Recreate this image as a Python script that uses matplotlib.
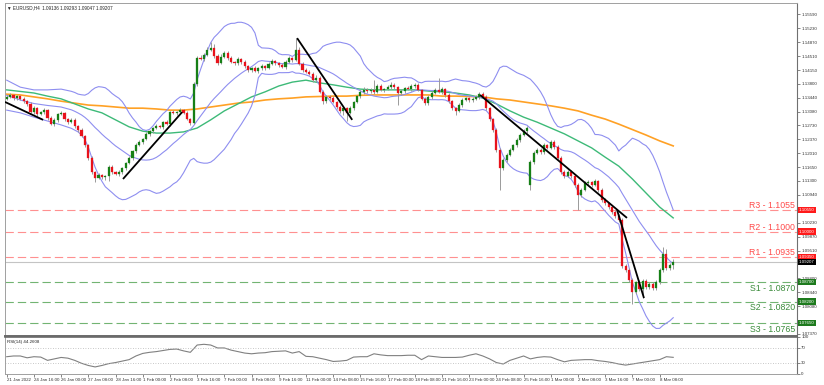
import numpy as np
import matplotlib
matplotlib.use("Agg")
import matplotlib.pyplot as plt
from matplotlib.transforms import blended_transform_factory

plt.rcParams['font.family'] = ['Liberation Sans', 'DejaVu Sans']

header_text = "\u25bc EURUSD,H4  1.09136 1.09293 1.09047 1.09207"
rsi_title = "RSI(14) 44.2608"

closes = [
    1.1346, 1.1351, 1.1343, 1.1348, 1.1341, 1.1335, 1.1328, 1.1307, 1.1317, 1.1302,
    1.1307, 1.1312, 1.1292, 1.1276, 1.1287, 1.1302, 1.1305, 1.1289, 1.1281, 1.1287,
    1.1271, 1.1261, 1.1245, 1.1222, 1.1189, 1.1153, 1.1138, 1.1145, 1.1140, 1.1143,
    1.1166, 1.1153, 1.1148, 1.1153, 1.1163, 1.1176, 1.1189, 1.1207, 1.1222, 1.1230,
    1.1238, 1.1251, 1.1258, 1.1266, 1.1271, 1.1269, 1.1281, 1.1276, 1.1307, 1.1305,
    1.1307, 1.1312, 1.1305, 1.1289, 1.1279, 1.1379, 1.1446, 1.1443, 1.1454, 1.1467,
    1.1472, 1.1451, 1.1433, 1.1449, 1.1459, 1.1446, 1.1436, 1.1433, 1.1443, 1.1436,
    1.1425, 1.1415, 1.1420, 1.1413, 1.1420, 1.1425, 1.1420, 1.1431, 1.1438, 1.1433,
    1.1428, 1.1423, 1.1436, 1.1446, 1.1441, 1.1467, 1.1431, 1.1415, 1.1410, 1.1405,
    1.1389, 1.1395, 1.1359, 1.1335, 1.1346, 1.1343, 1.1333, 1.1320, 1.1310, 1.1317,
    1.1305, 1.1317, 1.1333, 1.1348, 1.1359, 1.1364, 1.1361, 1.1364, 1.1359, 1.1374,
    1.1364, 1.1366, 1.1371, 1.1377, 1.1371, 1.1356, 1.1361, 1.1369, 1.1366, 1.1374,
    1.1377, 1.1364, 1.1341, 1.1330, 1.1346, 1.1356, 1.1364, 1.1359, 1.1366, 1.1351,
    1.1335, 1.1317, 1.1310, 1.1325, 1.1338, 1.1343, 1.1338, 1.1341, 1.1346, 1.1353,
    1.1346, 1.1317, 1.1289, 1.1261, 1.1210, 1.1163, 1.1184, 1.1197, 1.1210, 1.1222,
    1.1235, 1.1248, 1.1258, 1.1266, 1.1179, 1.1202, 1.1210, 1.1204, 1.1222, 1.1215,
    1.1230, 1.1217, 1.1189, 1.1153, 1.1143, 1.1153, 1.1143, 1.1120, 1.1094, 1.1107,
    1.1125, 1.1127, 1.1120, 1.1130, 1.1107, 1.1081, 1.1073, 1.1063, 1.1050, 1.1040,
    1.1030, 1.0911, 1.0901, 1.0875, 1.0845, 1.0870, 1.0852, 1.0873, 1.0857, 1.0865,
    1.0855, 1.0870, 1.0901, 1.0942, 1.0906, 1.09136, 1.09207,
]
first_open = 1.1341
gap_opens = {154: 1.1120}

wick_up = [
    4, 5, 3, 4, 3, 5, 3, 4, 6, 3,
    4, 5, 3, 4, 6, 3, 5, 3, 4, 5,
    4, 3, 5, 4, 3, 4, 3, 6, 4, 3,
    5, 4, 3, 5, 4, 3, 4, 3, 5, 4,
    3, 5, 4, 3, 6, 4, 3, 5, 4, 6,
    4, 5, 3, 6, 4, 5, 4, 8, 5, 6,
    15, 10, 4, 6, 5, 4, 6, 3, 5, 4,
    5, 4, 3, 6, 4, 5, 3, 4, 6, 4,
    3, 5, 6, 4, 3, 31, 8, 4, 5, 6,
    4, 8, 5, 4, 6, 4, 5, 3, 4, 6,
    4, 5, 3, 4, 5, 8, 6, 4, 25, 5,
    6, 4, 5, 7, 4, 4, 5, 3, 4, 6,
    4, 5, 3, 5, 4, 6, 4, 31, 5, 4,
    5, 3, 4, 5, 6, 4, 3, 5, 4, 6,
    5, 4, 3, 4, 5, 4, 6, 4, 5, 4,
    6, 4, 5, 4, 5, 6, 4, 5, 6, 4,
    5, 4, 6, 4, 5, 4, 6, 3, 5, 4,
    5, 6, 4, 5, 3, 4, 5, 4, 3, 5,
    4, 4, 5, 6, 5, 4, 6, 4, 5, 4,
    5, 6, 4, 18, 12, 5, 8.6,
]
wick_dn = [
    4, 3, 5, 4, 3, 4, 5, 3, 4, 5,
    3, 4, 5, 3, 4, 6, 3, 5, 4, 3,
    5, 4, 3, 6, 5, 6, 10, 4, 6, 8,
    12, 5, 4, 6, 4, 5, 3, 4, 5, 3,
    4, 3, 5, 4, 3, 4, 5, 3, 4, 3,
    5, 3, 4, 3, 5, 3, 4, 3, 5, 4,
    3, 4, 5, 3, 4, 6, 3, 5, 4, 6,
    4, 5, 6, 3, 5, 4, 6, 3, 4, 5,
    4, 3, 5, 4, 6, 3, 4, 5, 3, 4,
    5, 4, 3, 6, 4, 5, 3, 4, 6, 10,
    20, 4, 5, 3, 4, 5, 6, 4, 5, 3,
    4, 5, 3, 4, 5, 31, 4, 5, 3, 4,
    5, 3, 4, 6, 4, 5, 3, 4, 5, 6,
    4, 5, 11, 4, 5, 3, 4, 6, 4, 5,
    4, 5, 6, 5, 6, 56, 4, 5, 3, 4,
    5, 4, 3, 5, 13, 5, 4, 6, 5, 4,
    4, 5, 3, 6, 5, 4, 6, 5, 39, 5,
    4, 5, 6, 4, 5, 6, 4, 5, 6, 4,
    5, 5, 4, 5, 30, 6, 5, 22, 4, 5,
    6, 4, 5, 4, 5, 4, 8.9,
]

# Bollinger band values read for the first bars (window needs earlier history)
bb_head_idx = [0, 4, 8, 12, 16]
bb_head_upper = [1.1389, 1.1371, 1.1364, 1.1364, 1.1366]
bb_head_mid = [1.1350, 1.1338, 1.1329, 1.1324, 1.1320]
bb_head_lower = [1.1312, 1.1305, 1.1294, 1.1284, 1.1274]
bb_period = 20
bb_dev = 2.0

ma_idx = list(range(0, 197, 4))
ma_green = [
    1.1364, 1.1360, 1.1356, 1.1348, 1.1341, 1.1328, 1.1315, 1.1305, 1.1287, 1.1269,
    1.1258, 1.1253, 1.1253, 1.1256, 1.1266, 1.1287, 1.1310, 1.1328, 1.1346, 1.1359,
    1.1374, 1.1384, 1.1389, 1.1382, 1.1377, 1.1371, 1.1366, 1.1364, 1.1364, 1.1364,
    1.1364, 1.1361, 1.1359, 1.1356, 1.1351, 1.1343, 1.1328, 1.1310, 1.1294, 1.1281,
    1.1266, 1.1251, 1.1233, 1.1215, 1.1191, 1.1168, 1.1135, 1.1099, 1.1063, 1.1035,
]
ma_orange = [
    1.1353, 1.1351, 1.1346, 1.1341, 1.1335, 1.1330, 1.1325, 1.1323, 1.1320, 1.1317,
    1.1317, 1.1315, 1.1312, 1.1312, 1.1315, 1.1320, 1.1325, 1.1330, 1.1333, 1.1338,
    1.1341, 1.1343, 1.1346, 1.1347, 1.1348, 1.1348, 1.1350, 1.1351, 1.1351, 1.1351,
    1.1351, 1.1351, 1.1348, 1.1348, 1.1347, 1.1346, 1.1341, 1.1338, 1.1333, 1.1328,
    1.1323, 1.1317, 1.1310, 1.1299, 1.1289, 1.1276, 1.1262, 1.1248, 1.1233, 1.1220,
]

rsi_idx = list(range(0, 197, 2))
rsi_vals = [
    46, 48, 48, 43, 46, 45, 36, 40, 44, 42,
    36, 28, 22, 18, 22, 27, 30, 34, 38, 48,
    55, 58, 60, 63, 66, 67, 62, 58, 78, 80,
    78, 70, 70, 64, 60, 56, 54, 56, 57, 60,
    61, 62, 56, 60, 47, 46, 42, 38, 33, 34,
    36, 45, 46, 46, 54, 51, 49, 49, 49, 50,
    50, 38, 48, 46, 44, 44, 44, 45, 50, 54,
    48, 40, 30, 26, 36, 42, 48, 40, 44, 46,
    45, 38, 32, 36, 37, 38, 38, 35, 33, 30,
    26, 23, 26, 29, 32, 35, 38, 46, 44.26,
]

levels = [("R3", 1.1055), ("R2", 1.1000), ("R1", 1.0935),
          ("S1", 1.0870), ("S2", 1.0820), ("S3", 1.0765)]
current_price = 1.09207

trend_lines = [
    ((-0.5, 1.1333), (10.7, 1.1287)),
    ((34.2, 1.1135), (51.6, 1.1307)),
    ((85.4, 1.1497), (101.6, 1.1287)),
    ((139.2, 1.1351), (182.4, 1.1035)),
    ((179.5, 1.1055), (187.4, 1.0829)),
]

price_ticks = [1.15590, 1.15230, 1.14870, 1.14510, 1.14150, 1.13800, 1.13440,
               1.13080, 1.12730, 1.12370, 1.12010, 1.11650, 1.11300, 1.10940,
               1.10230, 1.09870, 1.09510, 1.08800, 1.08440, 1.08080, 1.07370]
rsi_ticks = [0, 30, 70, 100]
date_tick_idx = list(range(0, 193, 8))
date_labels = ["21 Jan 2022", "24 Jan 16:00", "26 Jan 00:00", "27 Jan 08:00",
               "28 Jan 16:00", "1 Feb 00:00", "2 Feb 08:00", "3 Feb 16:00",
               "7 Feb 00:00", "8 Feb 08:00", "9 Feb 16:00", "11 Feb 00:00",
               "14 Feb 08:00", "15 Feb 16:00", "17 Feb 00:00", "18 Feb 08:00",
               "21 Feb 16:00", "23 Feb 00:00", "24 Feb 08:00", "25 Feb 16:00",
               "1 Mar 00:00", "2 Mar 08:00", "3 Mar 16:00", "7 Mar 00:00",
               "8 Mar 08:00"]

# ---------------------------------------------------------------- figure
W, H = 824, 385
fig = plt.figure(figsize=(W / 100, H / 100), dpi=100)
fig.patch.set_facecolor("white")
L, R = 5, 797
ax = fig.add_axes([L / W, 1 - 336 / H, (R - L) / W, (336 - 3) / H])
ax2 = fig.add_axes([L / W, 1 - 373.5 / H, (R - L) / W, (373.5 - 337) / H])

XMIN, XMAX = -0.5, 232.4
YMIN, YMAX = 1.07315, 1.15873

bull = "#167f16"
bear = "#e8121b"
wick_c = "#9a9a9a"
bb_c = "#8e8ef0"

n = len(closes)
c = np.array(closes)
o = np.array([first_open] + closes[:-1])
for k, v in gap_opens.items():
    o[k] = v
pip = 0.0001
hi = np.maximum(o, c) + np.array(wick_up) * pip
lo = np.minimum(o, c) - np.array(wick_dn) * pip
x = np.arange(n)

# S/R levels
for name, val in levels:
    col = "#ff9090" if name.startswith("R") else "#72b472"
    ax.axhline(val, color=col, lw=0.8, dashes=(7.5, 3.6), zorder=1)

ax.axhline(current_price, color="#c4c4c4", lw=0.8, zorder=1)

# Indicators
ax.plot(ma_idx, ma_orange, color="#ffa125", lw=1.2, zorder=2)
ax.plot(ma_idx, ma_green, color="#3dba78", lw=1.0, zorder=2)

bb_i = np.arange(bb_period - 1, n)
mid = np.array([c[i - bb_period + 1:i + 1].mean() for i in bb_i])
sd = np.array([c[i - bb_period + 1:i + 1].std() for i in bb_i])
bx = list(bb_head_idx) + list(bb_i)
ax.plot(bx, list(bb_head_upper) + list(mid + bb_dev * sd), color=bb_c, lw=0.8, zorder=2)
ax.plot(bx, list(bb_head_mid) + list(mid), color=bb_c, lw=0.8, zorder=2)
ax.plot(bx, list(bb_head_lower) + list(mid - bb_dev * sd), color=bb_c, lw=0.8, zorder=2)

# Candles
ax.vlines(x, lo, hi, colors=wick_c, lw=0.7, zorder=3)
body = np.maximum(np.abs(c - o), 0.00009)
bot = np.minimum(o, c)
up = c >= o
ax.bar(x[up], body[up], bottom=bot[up], width=0.62, color=bull, edgecolor=bull, lw=0.2, zorder=4)
ax.bar(x[~up], body[~up], bottom=bot[~up], width=0.62, color=bear, edgecolor=bear, lw=0.2, zorder=4)

# Trend lines
for (x0, y0), (x1, y1) in trend_lines:
    ax.plot([x0, x1], [y0, y1], color="black", lw=1.3, zorder=5, solid_capstyle="butt")

ax.set_xlim(XMIN, XMAX)
ax.set_ylim(YMIN, YMAX)

# level labels
trans = blended_transform_factory(ax.transAxes, ax.transData)
for name, val in levels:
    txt = f"{name} - {val:.4f}"
    if name.startswith("R"):
        ax.annotate(txt, xy=(0.9975, val), xycoords=trans, xytext=(0, 1.4),
                    textcoords="offset points", ha="right", va="baseline",
                    fontsize=6.3, color="#ff4b4b", zorder=6)
        box = "#ff1a1a"
    else:
        ax.annotate(txt, xy=(0.9975, val), xycoords=trans, xytext=(0, -1.2),
                    textcoords="offset points", ha="right", va="top",
                    fontsize=6.3, color="#3b8b3b", zorder=6)
        box = "#1d7a1d"
    ax.text(1.0025, val, f"{val:.5f}", transform=trans, fontsize=3.2, color="white",
            va="center", ha="left", clip_on=False, zorder=10,
            bbox=dict(boxstyle="square,pad=0.25", fc=box, ec="none"))
ax.text(1.0025, current_price, f"{current_price:.5f}", transform=trans, fontsize=3.2,
        color="white", va="center", ha="left", clip_on=False, zorder=10,
        bbox=dict(boxstyle="square,pad=0.25", fc="black", ec="none"))

ax.text(0.003, 0.993, header_text, transform=ax.transAxes, fontsize=3.3,
        color="#222222", va="top", ha="left")

ax.yaxis.tick_right()
ax.set_yticks(price_ticks)
ax.set_yticklabels([f"{t:.5f}" for t in price_ticks])
ax.tick_params(axis="y", length=2, width=0.5, pad=1, labelsize=3.2,
               colors="#555555", labelcolor="#333333")
ax.set_xticks([])
for s in ["left", "top"]:
    ax.spines[s].set_color("#a0a0a0")
    ax.spines[s].set_linewidth(0.7)
ax.spines["right"].set_color("#707070")
ax.spines["right"].set_linewidth(0.8)
ax.spines["bottom"].set_color("#6a6a6a")
ax.spines["bottom"].set_linewidth(1.4)

# ---------------------------------------------------------------- RSI
ax2.plot(rsi_idx, rsi_vals, color="#808080", lw=0.8)
ax2.axhline(70, color="#b5b5b5", lw=0.6, ls=(0, (1, 2)))
ax2.axhline(30, color="#b5b5b5", lw=0.6, ls=(0, (1, 2)))
ax2.set_xlim(XMIN, XMAX)
ax2.set_ylim(0, 100)
ax2.yaxis.tick_right()
ax2.set_yticks(rsi_ticks)
ax2.set_yticklabels([str(t) for t in rsi_ticks])
ax2.tick_params(axis="y", length=2, width=0.5, pad=1, labelsize=3.2,
                colors="#555555", labelcolor="#333333")
ax2.set_xticks(date_tick_idx)
ax2.set_xticklabels(date_labels)
ax2.tick_params(axis="x", length=2, width=0.5, pad=1, labelsize=3.2,
                colors="#555555", labelcolor="#333333")
for lbl in ax2.get_xticklabels():
    lbl.set_ha("left")
ax2.text(0.003, 0.93, rsi_title, transform=ax2.transAxes, fontsize=3.2,
         color="#222222", va="top", ha="left")
for s in ["left", "bottom"]:
    ax2.spines[s].set_color("#a0a0a0")
    ax2.spines[s].set_linewidth(0.7)
ax2.spines["right"].set_color("#707070")
ax2.spines["right"].set_linewidth(0.8)
ax2.spines["top"].set_color("#6a6a6a")
ax2.spines["top"].set_linewidth(1.2)

fig.savefig("out.png", dpi=100)
